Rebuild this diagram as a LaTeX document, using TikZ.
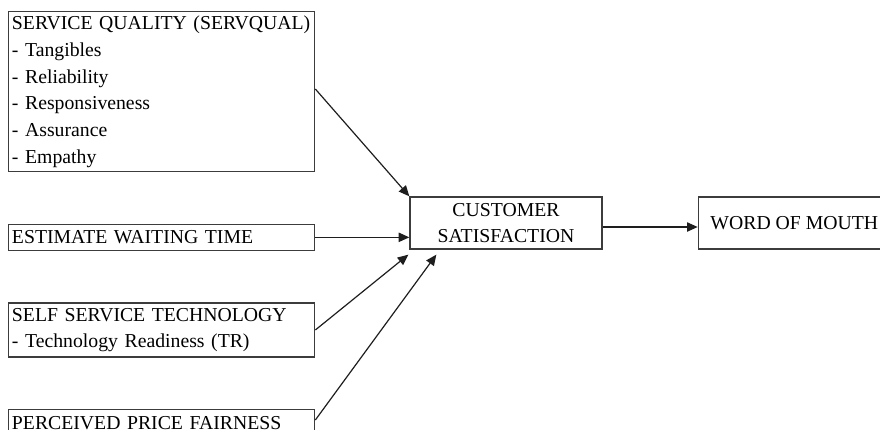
\documentclass[tikz,border=0pt]{standalone}
\usepackage{fontspec}
\setmainfont{Liberation Serif}
\usepackage{tikz}
\usetikzlibrary{arrows.meta, positioning}
\definecolor{fwline}{RGB}{30, 30, 30}
\definecolor{fwbox}{RGB}{60, 60, 60}

\begin{document}
\begin{tikzpicture}[
    x=0.75pt, y=-0.75pt,
    node distance=38.5pt and 71.25pt,
    leftbox/.style={
        rectangle, draw=fwbox, line width=1pt,
        text width=224.5pt, inner xsep=2.5pt, inner ysep=0pt,
        align=left, minimum height=19.5pt,
        font=\fontsize{14.8}{20}\selectfont
    },
    midbox/.style={
        rectangle, draw=fwbox, line width=1pt,
        minimum width=144pt, minimum height=39pt, inner sep=0pt,
        align=center, font=\fontsize{14.8}{19.5}\selectfont
    },
    arr/.style={-{Triangle[length=8pt, width=7pt]}, line width=0.9pt, fwline}
]
\useasboundingbox (0,0) rectangle (880,429);
\clip (0,0) rectangle (880,429);

\node[leftbox, minimum height=120pt, anchor=north west] (servqual) at (8,11)
    {SERVICE QUALITY (SERVQUAL)\\ - Tangibles\\ - Reliability\\ - Responsiveness\\ - Assurance\\ - Empathy};
\node[leftbox, below=of servqual] (waiting) {ESTIMATE WAITING TIME};
\node[leftbox, minimum height=40.5pt, below=of waiting] (selfserv) {SELF SERVICE TECHNOLOGY\\ - Technology Readiness (TR)};
\node[leftbox, below=of selfserv] (price) {PERCEIVED PRICE FAIRNESS};

\node[midbox] (satisf) at (506,223) {CUSTOMER\\ SATISFACTION};
\node[midbox, right=of satisf] (wom) {WORD OF MOUTH};

\draw[arr] ([yshift=2pt]servqual.east) -- (satisf.north west);
\draw[arr] (waiting.east) -- (satisf.west |- waiting.east);
\draw[arr] (selfserv.east) -- ([xshift=-0.75pt, yshift=-3.75pt]satisf.south west);
\draw[arr] ([yshift=2pt]price.east) -- ([xshift=20.25pt, yshift=-3.75pt]satisf.south west);
\draw[arr] ([yshift=-3pt]satisf.east) -- ([yshift=-3pt]wom.west);

\end{tikzpicture}
\end{document}
